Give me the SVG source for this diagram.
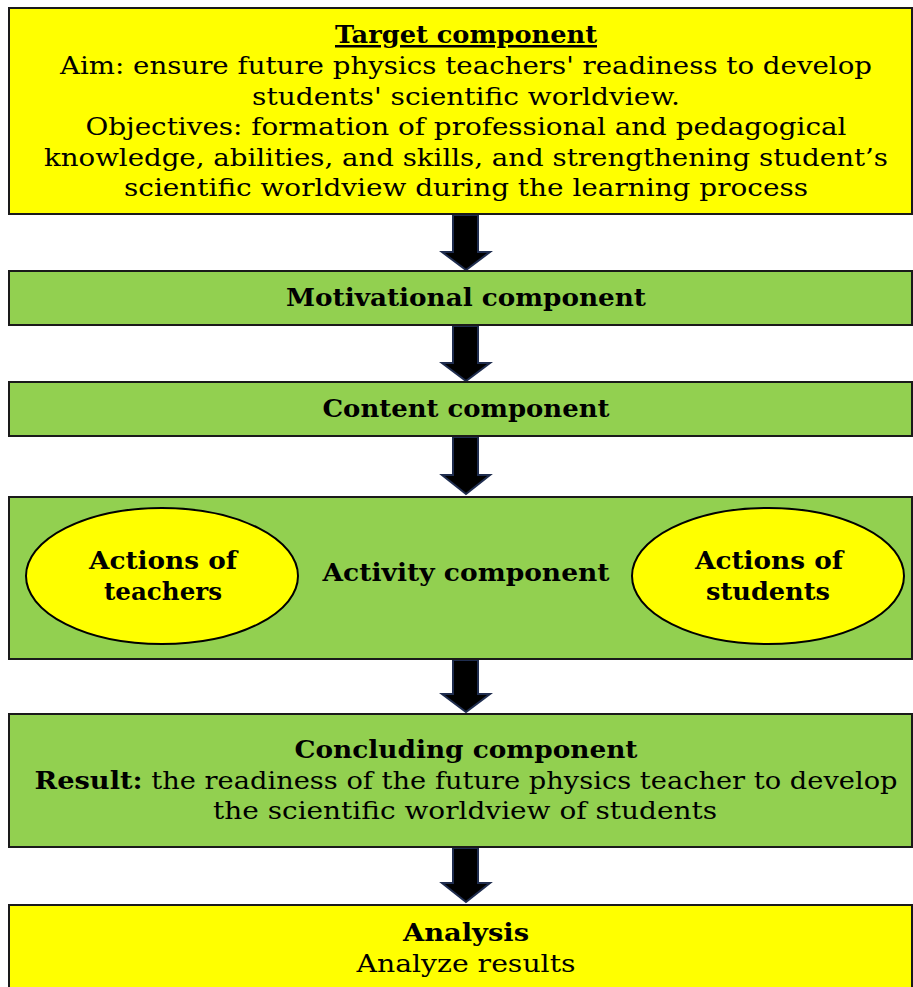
<svg xmlns="http://www.w3.org/2000/svg" width="913" height="987" viewBox="0 0 913 987">
<style>
.box{stroke:#1a1a1a;stroke-width:2}
.y{fill:#ffff00}
.g{fill:#92d050}
.ell{fill:#ffff00;stroke:#000;stroke-width:2}
.arr{fill:#000;stroke:#1f2d4f;stroke-width:2;stroke-linejoin:miter}
text{font-family:"DejaVu Serif","Liberation Serif",serif;fill:#000;text-anchor:middle;font-size:25px}
.b{font-weight:bold}
</style>
<rect width="913" height="987" fill="#ffffff"/>
<g id="connectors">
<path class="arr" d="M453,215 H478 V252 H490 L466,270 L442,252 H453 Z"/>
<path class="arr" d="M453,326 H478 V363 H490 L466,381 L442,363 H453 Z"/>
<path class="arr" d="M453,437 H478 V475 H490 L466,494 L442,475 H453 Z"/>
<path class="arr" d="M453,660 H478 V694 H490 L466,712 L442,694 H453 Z"/>
<path class="arr" d="M453,848 H478 V883 H490 L466,902 L442,883 H453 Z"/>
</g>
<g id="target">
<rect class="box y" x="9" y="8" width="903" height="206"/>
<text class="b" x="466" y="43" textLength="262" lengthAdjust="spacingAndGlyphs" text-decoration="underline">Target component</text>
<text x="466" y="74" textLength="812" lengthAdjust="spacingAndGlyphs">Aim: ensure future physics teachers' readiness to develop</text>
<text x="466" y="105" textLength="428" lengthAdjust="spacingAndGlyphs">students' scientific worldview.</text>
<text x="466" y="135" textLength="761" lengthAdjust="spacingAndGlyphs">Objectives: formation of professional and pedagogical</text>
<text x="466" y="166" textLength="844" lengthAdjust="spacingAndGlyphs">knowledge, abilities, and skills, and strengthening student’s</text>
<text x="466" y="196" textLength="684" lengthAdjust="spacingAndGlyphs">scientific worldview during the learning process</text>
</g>
<g id="motivational">
<rect class="box g" x="9" y="271" width="903" height="54"/>
<text class="b" x="466" y="306" textLength="360" lengthAdjust="spacingAndGlyphs">Motivational component</text>
</g>
<g id="content">
<rect class="box g" x="9" y="382" width="903" height="54"/>
<text class="b" x="466" y="417" textLength="287" lengthAdjust="spacingAndGlyphs">Content component</text>
</g>
<g id="activity">
<rect class="box g" x="9" y="497" width="903" height="162"/>
<text class="b" x="466" y="581" textLength="287" lengthAdjust="spacingAndGlyphs">Activity component</text>
</g>
<g id="teachers">
<ellipse class="ell" cx="162" cy="576" rx="136" ry="68"/>
<text class="b" x="163" y="569" textLength="148" lengthAdjust="spacingAndGlyphs">Actions of</text>
<text class="b" x="163" y="600" textLength="118" lengthAdjust="spacingAndGlyphs">teachers</text>
</g>
<g id="students">
<ellipse class="ell" cx="768" cy="576" rx="136" ry="68"/>
<text class="b" x="769" y="569" textLength="148" lengthAdjust="spacingAndGlyphs">Actions of</text>
<text class="b" x="768" y="600" textLength="124" lengthAdjust="spacingAndGlyphs">students</text>
</g>
<g id="concluding">
<rect class="box g" x="9" y="714" width="903" height="133"/>
<text class="b" x="466" y="758" textLength="343" lengthAdjust="spacingAndGlyphs">Concluding component</text>
<text x="466" y="789" textLength="863" lengthAdjust="spacingAndGlyphs"><tspan class="b">Result:</tspan> the readiness of the future physics teacher to develop</text>
<text x="465" y="819" textLength="504" lengthAdjust="spacingAndGlyphs">the scientific worldview of students</text>
</g>
<g id="analysis">
<rect class="box y" x="9" y="905" width="903" height="90"/>
<text class="b" x="466" y="941" textLength="126" lengthAdjust="spacingAndGlyphs">Analysis</text>
<text x="466" y="972" textLength="219" lengthAdjust="spacingAndGlyphs">Analyze results</text>
</g>
</svg>
